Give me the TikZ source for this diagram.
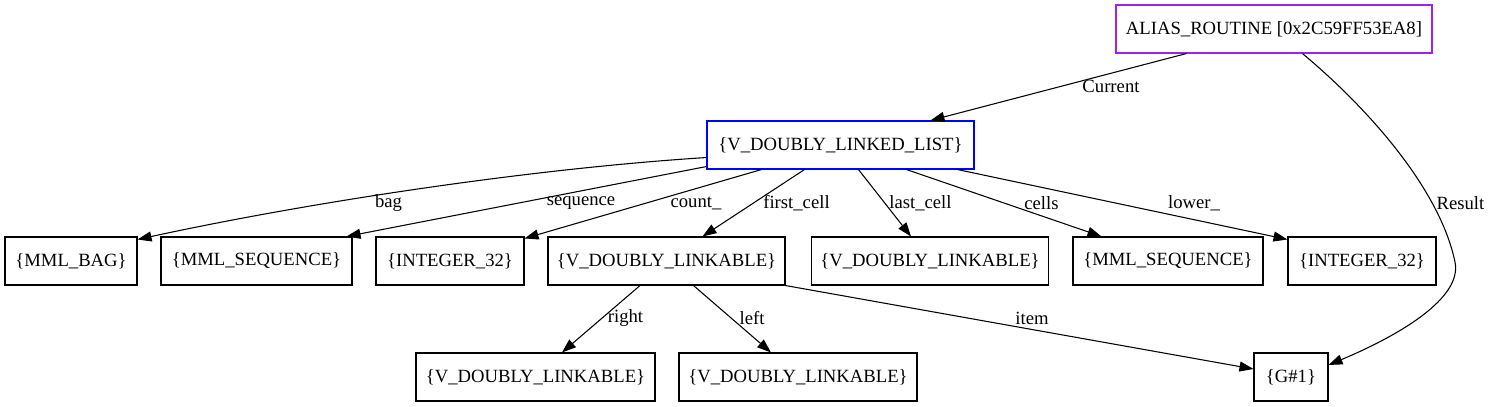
\documentclass[tikz,border=0pt]{standalone}
\usepackage{fontspec}
\setmainfont{Liberation Serif}
\usetikzlibrary{arrows.meta,calc}
\definecolor{aliascol}{HTML}{A020F0}
\definecolor{listcol}{HTML}{0000FF}
\begin{document}
\begin{tikzpicture}[x=0.75pt,y=-0.75pt,
  every node/.style={font=\fontsize{14pt}{16pt}\selectfont, inner sep=0pt},
  box/.style={draw, line width=0.8pt, minimum height=48*0.75pt, anchor=center},
  edge/.style={draw, line width=0.8pt, -{Triangle[length=10.5pt,width=7.5pt]}},
  lbl/.style={anchor=center}]
\useasboundingbox (0,0) rectangle (1490,407);
% nodes
\node[box, draw=aliascol, minimum width=316*0.75pt] (alias) at (1274,29) {ALIAS\_ROUTINE [0x2C59FF53EA8]};
\node[box, draw=listcol, minimum width=267*0.75pt] (list) at (840.5,145) {\{V\_DOUBLY\_LINKED\_LIST\}};
\node[box, minimum width=132*0.75pt] (bag) at (71,261) {\{MML\_BAG\}};
\node[box, minimum width=191*0.75pt] (seqa) at (256.5,261) {\{MML\_SEQUENCE\}};
\node[box, minimum width=148*0.75pt] (inta) at (450,261) {\{INTEGER\_32\}};
\node[box, minimum width=237*0.75pt] (cella) at (666.5,261) {\{V\_DOUBLY\_LINKABLE\}};
\node[box, minimum width=237*0.75pt] (cellb) at (930,261) {\{V\_DOUBLY\_LINKABLE\}};
\node[box, minimum width=190*0.75pt] (seqb) at (1168,261) {\{MML\_SEQUENCE\}};
\node[box, minimum width=148*0.75pt] (intb) at (1362,261) {\{INTEGER\_32\}};
\node[box, minimum width=239*0.75pt] (cellc) at (535.5,377) {\{V\_DOUBLY\_LINKABLE\}};
\node[box, minimum width=238*0.75pt] (celld) at (798,377) {\{V\_DOUBLY\_LINKABLE\}};
\node[box, minimum width=74*0.75pt] (gone) at (1291,377) {\{G\#1\}};
% edges
\draw[edge] ($(alias.south west)+(71,0)$) -- ($(list.north west)+(224,0)$);
\draw[edge] ($(alias.south west)+(187,0)$) .. controls (1370,110) and (1440,190) .. (1455,262)
  .. controls (1462.5,298) and (1400,335) .. ($(gone.east)+(0,-12)$);
\draw[edge] ($(list.south west)+(0,-12)$) .. controls (540,168) and (320,200) .. ($(bag.north east)+(0,3)$);
\draw[edge] ($(list.south west)+(0,-3)$) -- ($(seqa.north east)+(-6,0)$);
\draw[edge] ($(list.south west)+(55,0)$) -- ($(inta.north east)+(0,2)$);
\draw[edge] ($(list.south west)+(98,0)$) -- ($(cella.north)+(36,0)$);
\draw[edge] ($(list.south west)+(152,0)$) -- ($(cellb.north)+(-19,0)$);
\draw[edge] ($(list.south west)+(200,0)$) -- ($(seqb.north west)+(29,0)$);
\draw[edge] ($(list.south west)+(251,0)$) -- ($(intb.north west)+(0,3)$);
\draw[edge] ($(cella.south)+(-26.5,0)$) -- ($(cellc.north)+(26.5,0)$);
\draw[edge] ($(cella.south)+(27,0)$) -- ($(celld.north)+(-27,0)$);
\draw[edge] (cella.south east) -- ($(gone.west)+(0,-8)$);
% labels
\node[lbl] (lcur) at (1111,86) {Current};
\node[lbl] (lres) at (1460.5,203) {Result};
\node[lbl] (lbag) at (388.5,203) {bag};
\node[lbl] (lseq) at (581,203) {sequence};
\node[lbl] (lcnt) at (696,203) {count\_};
\node[lbl] (lfst) at (796.5,203) {first\_cell};
\node[lbl] (llst) at (920.5,203) {last\_cell};
\node[lbl] (lcel) at (1041.5,203) {cells};
\node[lbl] (llow) at (1194,203) {lower\_};
\node[lbl] (lrgt) at (625.5,318) {right};
\node[lbl] (llft) at (752,318) {left};
\node[lbl] (litm) at (1032,318) {item};
\end{tikzpicture}
\end{document}
